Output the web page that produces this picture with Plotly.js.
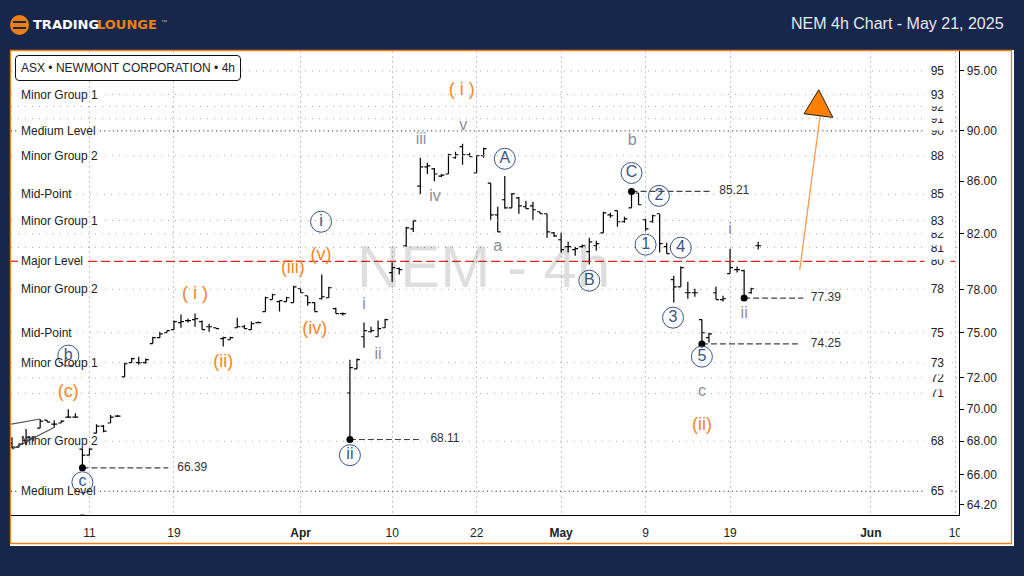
<!DOCTYPE html>
<html><head><meta charset="utf-8">
<script src="https://cdn.plot.ly/plotly-3.0.1.min.js"></script>
<style>html,body{margin:0;padding:0;background:#17274b}#c{width:1024px;height:576px}</style>
</head><body><div id="c"></div>
<script>
const barOpen=[67.88,67.64,68.06,68.19,68.81,69.31,69.06,69.13,69.5,69.5,67.52,67.15,68.5,68.94,69.13,69.56,72.07,73.0,73.0,73.0,74.27,74.67,75.0,75.21,75.69,75.83,75.9,75.76,75.41,75.34,74.6,74.53,75.34,75.41,75.21,75.69,76.45,77.28,77.14,77.14,77.07,78.04,77.55,77.07,77.34,77.41,76.65,76.31,71.03,72.6,74.73,75.07,74.73,75.34,79.19,79.48,81.13,82.38,85.62,87.12,86.96,86.4,86.56,87.84,88.72,88.08,86.64,88.0,85.85,83.43,84.57,83.96,84.72,84.04,84.11,83.66,83.51,82.08,81.57,81.06,80.85,81.06,80.7,81.13,82.08,83.43,83.74,82.91,83.96,85.09,83.06,82.91,83.51,81.06,78.68,78.18,77.76,77.76,75.9,74.67,77.76,77.28,79.12,79.4,79.33,77.76,81.13];
const barHigh=[68.25,67.88,68.75,68.31,69.38,69.31,69.31,69.31,70.0,69.75,67.58,67.58,69.06,69.0,69.63,69.63,73.0,73.33,73.4,73.27,74.73,75.07,75.14,75.83,76.24,75.96,76.31,75.83,75.62,75.34,74.73,74.73,76.03,75.55,75.76,75.76,77.48,77.69,77.21,77.48,78.25,78.04,77.55,77.07,79.05,78.18,76.72,76.38,73.2,73.27,75.69,75.41,75.83,75.96,79.91,79.55,82.53,83.06,87.84,87.44,87.04,86.56,88.16,88.32,88.96,88.24,88.08,88.64,85.85,84.04,86.4,85.09,84.79,84.49,84.41,83.66,83.51,82.15,82.08,81.42,81.06,81.21,81.71,81.5,83.66,83.58,83.74,83.28,85.21,85.09,83.13,83.43,83.51,81.35,78.97,79.62,78.54,78.04,75.9,75.0,78.18,77.55,80.92,79.62,79.4,78.11,81.42];
const barLow=[67.58,67.64,67.76,68.0,68.81,69.19,68.88,69.13,69.44,69.5,66.39,67.15,68.5,68.56,69.13,69.5,72.07,73.0,72.87,72.93,74.27,74.67,75.0,75.21,75.34,75.69,75.41,75.21,75.07,75.28,74.07,74.53,75.34,75.28,75.21,75.69,76.45,77.28,76.45,77.14,77.07,77.76,76.86,76.45,77.28,77.41,76.31,76.17,68.11,72.6,74.0,75.0,74.73,75.34,78.54,79.05,81.06,82.15,85.02,86.56,86.0,86.32,86.56,87.76,87.28,87.92,86.64,87.84,83.06,82.15,83.89,83.96,83.51,83.89,83.06,83.51,81.71,81.78,80.63,80.63,80.41,80.99,79.77,80.77,82.08,83.21,82.53,82.83,83.96,84.19,82.23,82.83,80.63,80.56,77.07,78.18,77.34,77.48,74.25,74.33,77.28,77.14,79.12,79.19,77.39,77.69,80.85];
const barClose=[67.64,67.82,68.25,68.25,69.25,69.19,69.06,69.25,69.5,69.5,67.15,67.52,68.94,68.63,69.5,69.56,72.93,73.27,73.0,73.2,74.67,74.93,75.14,75.76,75.76,75.83,75.96,75.21,75.41,75.28,74.67,74.67,75.41,75.28,75.62,75.69,77.41,77.62,77.21,77.41,78.18,77.76,77.07,76.45,77.48,78.11,76.31,76.31,72.67,73.2,75.14,75.14,75.28,75.9,79.55,79.4,82.45,82.98,87.12,87.2,86.56,86.48,88.08,88.08,88.08,87.92,88.0,88.56,83.43,82.15,83.96,85.02,84.11,83.89,83.81,83.51,82.15,81.86,80.85,81.06,80.92,81.13,81.42,81.28,83.58,83.36,82.91,83.13,85.09,84.19,82.38,83.36,81.28,80.56,78.18,79.55,77.76,77.76,75.0,74.93,77.28,77.34,79.55,79.4,77.48,78.04,81.13];

const xTickBars=[11,23,41,54,66,78,90,102,122,134];
const xTickLabels=['11','19','<b>Apr</b>','10','22','<b>May</b>','9','19','<b>Jun</b>','10'];
const yTickVals=[64.2,66,68,70,72,75,78,82,86,90,95];
const yTickLabels=['64.20','66.00','68.00','70.00','72.00','75.00','78.00','82.00','86.00','90.00','95.00'];

const minorLevels=[95,93,92,91,88,85,83,82,81,78,75,73,72,71,68];
const mediumLevels=[90,65];
const majorLevels=[80];
const rightLevels=[65,68,71,72,73,75,78,80,81,82,83,85,88,90,91,92,93,95];
const leftLabels=['Minor Group 1','Medium Level','Minor Group 2','Mid-Point','Minor Group 1','Major Level','Minor Group 2','Mid-Point','Minor Group 1','Minor Group 2','Medium Level'];
const leftLabelLevels=[93,90,88,85,83,80,78,75,73,68,65];
const leftLabelEnds=[13.2,12.5,13.2,9.1,13.2,10.8,13.2,9.1,13.2,13.2,12.5];

const pivotBars=[10,48,88,98,104];
const pivotPrices=[66.39,68.11,85.21,74.25,77.39];
const pivotEnds=[22.2,58,99.1,111.8,112.4];
const pivotTextBars=[25.6,61.5,102.6,115.6,115.6];
const pivotLabels=['66.39','68.11','85.21','74.25','77.39'];

const orangeText=['( i )','( i )','(iii)','(v)','(iv)','(ii)','(c)','(ii)'];
const orangeBars=[63.9,26,39.9,43.9,43,30,8,98];
const orangePrices=[93.3,77.62,79.48,80.42,75.21,73.0,71.09,69.0];
const navyText=['i','b','c','ii','A','B','C','2','1','4','3','5'];
const navyBars=[43.9,8,10,48,70,82,88,91.9,90,95,93.9,98];
const navyPrices=[82.91,73.47,65.53,67.15,87.76,78.61,86.64,84.87,81.21,80.99,76.03,73.4];
const grayText=['iii','v','iv','a','b','i','ii','i','ii','c','a'];
const grayBars=[58.1,64.1,60.1,69,88.1,50,52,102,104,98,10];
const grayPrices=[89.28,90.42,84.79,81.06,89.2,76.93,73.53,82.3,76.31,71.1,63.4];

const wedgeBarsA=[-0.1,4], wedgePricesA=[69.06,69.38];
const wedgeBarsB=[0,6.1], wedgePricesB=[67.52,68.88];
const arrowBars=[111.9,114.8], arrowPrices=[79.38,91.3];
const headBars=[114.6,112.5,116.6,114.6], headPrices=[93.4,91.4,91.1,93.4];

const XMIN=-0.142, XMAX=134.52;
const FONT='"Liberation Sans", Arial, sans-serif';
const X=p=>(p-11)/948, Y=p=>(515-p)/464;
const bars=barHigh.map((_,i)=>i);

function levelTrace(levels,color,dash,width){
  const xs=[],ys=[];
  levels.forEach(v=>{
    const k=leftLabelLevels.indexOf(v);
    if(k>=0){xs.push(XMIN,0.85,null,leftLabelEnds[k],XMAX,null);ys.push(v,v,null,v,v,null);}
    else{xs.push(XMIN,XMAX,null);ys.push(v,v,null);}
  });
  return {type:'scatter',mode:'lines',x:xs,y:ys,hoverinfo:'skip',connectgaps:false,line:{color,width:width||1,dash}};
}
const textTrace=(t,x,y,color,size)=>({type:'scatter',mode:'text',text:t,x,y,textposition:'middle center',hoverinfo:'skip',textfont:{family:FONT,size,color}});

const traces=[
  levelTrace(minorLevels,'#a8a8a8','1px,6px'),
  levelTrace(mediumLevels,'#1a1a1a','1px,3.3px'),
  levelTrace(majorLevels,'#e6261a','9px,4px',1.3),
  textTrace(['NEM - 4h'],[67],[79.26],'rgba(0,0,0,0.13)',60),
  {type:'ohlc',x:bars,open:barOpen,high:barHigh,low:barLow,close:barClose,tickwidth:0.42,hoverinfo:'skip',
   increasing:{line:{color:'#000',width:1.2}},decreasing:{line:{color:'#000',width:1.2}}},
  {type:'scatter',mode:'lines',x:wedgeBarsA,y:wedgePricesA,hoverinfo:'skip',line:{color:'#555',width:1.2}},
  {type:'scatter',mode:'lines',x:wedgeBarsB,y:wedgePricesB,hoverinfo:'skip',line:{color:'#555',width:1.2}}
];
pivotBars.forEach((b,i)=>traces.push({type:'scatter',mode:'lines',x:[b,pivotEnds[i]],y:[pivotPrices[i],pivotPrices[i]],hoverinfo:'skip',line:{color:'#444',width:1.2,dash:'6px,3px'}}));
traces.push({type:'scatter',mode:'markers',x:pivotBars,y:pivotPrices,hoverinfo:'skip',marker:{color:'#000',size:7}});
traces.push(textTrace(pivotLabels,pivotTextBars,pivotPrices,'#333',12));
traces.push({type:'scatter',mode:'markers+text',x:navyBars,y:navyPrices,text:navyText,textposition:'middle center',hoverinfo:'skip',
  marker:{symbol:'circle-open',size:21,color:'#3a5488',line:{color:'#3a5488',width:1}},textfont:{family:FONT,size:16,color:'#3a5488'}});
traces.push(textTrace(orangeText,orangeBars,orangePrices,'#f5862a',18));
traces.push(textTrace(grayText,grayBars,grayPrices,'#8b8f99',16));
traces.push({type:'scatter',mode:'lines',x:arrowBars,y:arrowPrices,hoverinfo:'skip',line:{color:'#fb9a4f',width:1.3}});
traces.push({type:'scatter',mode:'lines',x:headBars,y:headPrices,fill:'toself',fillcolor:'#ff7f00',hoverinfo:'skip',line:{color:'#222',width:1}});

const rr=(x0,y0,x1,y1,r)=>`M${X(x0+r)},${Y(y0)} L${X(x1-r)},${Y(y0)} Q${X(x1)},${Y(y0)} ${X(x1)},${Y(y0+r)} L${X(x1)},${Y(y1-r)} Q${X(x1)},${Y(y1)} ${X(x1-r)},${Y(y1)} L${X(x0+r)},${Y(y1)} Q${X(x0)},${Y(y1)} ${X(x0)},${Y(y1-r)} L${X(x0)},${Y(y0+r)} Q${X(x0)},${Y(y0)} ${X(x0+r)},${Y(y0)} Z`;
const rect=(x0,y0,x1,y1,fill,line,layer)=>({type:'rect',xref:'paper',yref:'paper',x0:X(x0),x1:X(x1),y0:Y(y0),y1:Y(y1),fillcolor:fill,line:line||{width:0},layer:layer||'below'});
const shapes=[
  rect(10,50,1014,546,'#ffffff'),
  rect(10.5,50.5,1011.5,543.5,'rgba(0,0,0,0)',{color:'#f07f1a',width:1.3}),
  rect(83,80,95,163,'#ffffff'),
  rect(959.8,517,976,541,'#ffffff',null,'above'),
  {type:'path',xref:'paper',yref:'paper',path:rr(15.5,55.5,240.5,80.5,3.5),fillcolor:'#ffffff',line:{color:'#111',width:1},layer:'above'},
  {type:'circle',xref:'paper',yref:'paper',x0:X(10),x1:X(29),y0:Y(15),y1:Y(35),fillcolor:'#f07f13',line:{width:0},layer:'above'},
  rect(13,21,26,23,'#17274b',null,'above'),
  rect(13,27,26,29,'#17274b',null,'above')
];

const ann=(text,px,py,opts)=>Object.assign({text,xref:'paper',yref:'paper',x:X(px),y:Y(py),xanchor:'left',yanchor:'middle',showarrow:false,font:{family:FONT,size:12,color:'#222'}},opts||{});
const annotations=[];
rightLevels.forEach(v=>annotations.push({text:String(v),xref:'x',yref:'y',x:131.4,y:Math.log10(v),xanchor:'center',yanchor:'middle',showarrow:false,
  width:23,height:20,bgcolor:'#ffffff',font:{family:FONT,size:12,color:'#222'}}));
leftLabels.forEach((t,i)=>annotations.push({text:t,xref:'x',yref:'y',x:0.93,y:Math.log10(leftLabelLevels[i]),xanchor:'left',yanchor:'middle',showarrow:false,font:{family:FONT,size:12,color:'#222'}}));
annotations.push(ann('ASX • NEWMONT CORPORATION • 4h',18.5,68));
annotations.push(ann('NEM 4h Chart - May 21, 2025',789,23.5,{font:{family:FONT,size:16,color:'#e6e8ee'}}));
annotations.push(ann('<b>TRADING</b>',31,25,{font:{family:'"DejaVu Sans"',size:13,color:'#ffffff'}}));
annotations.push(ann('<b>LOUNGE</b>',95,25,{font:{family:'"DejaVu Sans"',size:13,color:'#f07f13'}}));
annotations.push(ann('™',159,22,{font:{family:FONT,size:6,color:'#c9a27a'}}));

Plotly.newPlot('c',traces,{
  width:1024,height:576,showlegend:false,hovermode:false,dragmode:false,
  paper_bgcolor:'#17274b',plot_bgcolor:'rgba(0,0,0,0)',
  margin:{l:11,r:65,t:51,b:61,pad:0},
  xaxis:{type:'linear',range:[XMIN,XMAX],rangeslider:{visible:false},tickmode:'array',tickvals:xTickBars,ticktext:xTickLabels,
    showgrid:true,gridcolor:'#c6c6c6',griddash:'2px,3px',gridwidth:1,zeroline:false,ticks:'',ticklen:0,
    showline:true,linecolor:'#000',linewidth:1.4,tickfont:{family:FONT,size:12,color:'#222'},ticklabelstandoff:6,anchor:'y'},
  yaxis:{type:'log',side:'right',range:[Math.log10(63.62),Math.log10(96.73)],tickmode:'array',tickvals:yTickVals,ticktext:yTickLabels,
    showgrid:false,zeroline:false,ticks:'outside',ticklen:4,tickcolor:'#000',tickwidth:1,showline:true,linecolor:'#000',linewidth:1.4,
    tickfont:{family:FONT,size:12,color:'#222'},anchor:'x'},
  shapes,annotations
},{staticPlot:true,displayModeBar:false});
</script></body></html>
